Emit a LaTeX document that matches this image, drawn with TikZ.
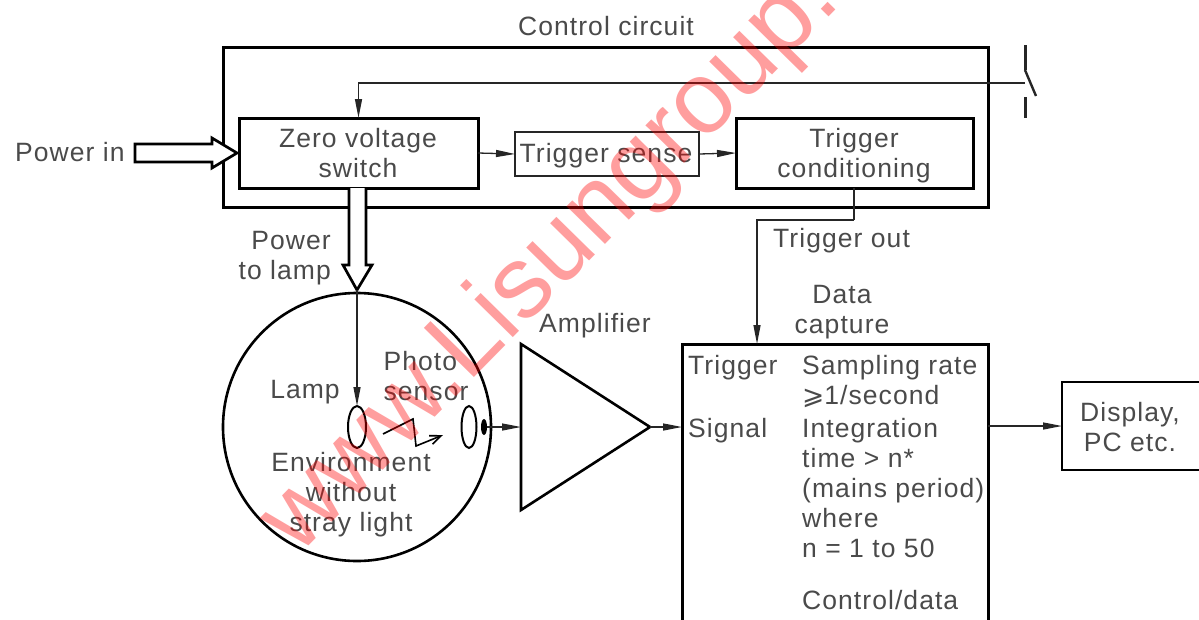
\documentclass[tikz,border=0pt]{standalone}
\usepackage{fontspec}
\setmainfont[LetterSpace=4]{Liberation Sans}
\newfontfamily\symfont{DejaVu Sans}
\newfontfamily\wmfont{Liberation Sans}
\usetikzlibrary{arrows.meta,shapes.geometric,calc}
\definecolor{txt}{HTML}{4A4A4A}
\tikzset{
 lbl/.style={text=txt,font=\fontsize{26.5}{30}\selectfont,align=center,inner sep=0pt},
 lbll/.style={lbl,align=left,anchor=base west},
 box/.style={draw=black,line width=3pt,inner sep=0pt,outer sep=0pt,anchor=north west},
 thinbox/.style={draw=black!85,line width=2pt,inner sep=0pt,outer sep=0pt,anchor=north west},
 wire/.style={draw=black!85,line width=1.3pt},
 arrowed/.style={wire,-{Triangle[length=19pt,width=7pt]}},
 fatarrow/.style={draw=black,line width=2.7pt,fill=white,line join=miter},
 lens/.style={draw=black,line width=2pt,ellipse,inner sep=0pt,outer sep=0pt},
}
\begin{document}
\begin{tikzpicture}[x=1pt,y=-1pt]
\useasboundingbox (0,0) rectangle (1199,619);
\clip (0,0) rectangle (1199,619);
\coordinate (swt) at (1025,45);
\coordinate (swm) at (1025,70);
\coordinate (swe) at (1036,96);
\coordinate (swc) at (1025,83);
\coordinate (swb) at (1025,97);
\coordinate (swl) at (1025,118);
\node[box,minimum width=765pt,minimum height=160pt] (ctrl) at (223,47) {};
\node[box,minimum width=239pt,minimum height=70pt] (zvs) at (239,118) {};
\node[thinbox,minimum width=184pt,minimum height=44pt] (ts) at (515,132) {};
\node[box,minimum width=237pt,minimum height=70pt] (tc) at (736,118) {};
\node[draw=black,line width=2.6pt,circle,inner sep=0pt,outer sep=0pt,minimum size=268pt] (env) at (357,427) {};
\node[box,minimum width=306pt,minimum height=400pt] (dc) at (682,344) {};
\node[box,line width=2.6pt,minimum width=160pt,minimum height=88pt] (disp) at (1062,382) {};
\node[lens,minimum width=18pt,minimum height=42pt] (lamp) at (357,427) {};
\node[lens,minimum width=15pt,minimum height=42pt] (sens) at (469,427) {};
\node[ellipse,fill=black,minimum width=6pt,minimum height=16pt,inner sep=0pt,outer sep=0pt] (spot) at (484,427) {};
% amplifier
\coordinate (ampa) at (521,344);
\coordinate (ampb) at (521,510);
\coordinate (ampt) at (650,427);
\coordinate (ampi) at (521,427);
\draw[draw=black,line width=2.6pt,line join=miter] (ampa) -- (ampt) -- (ampb) -- cycle;
% connectors
\draw[arrowed] (swc) -| (zvs.north);
\draw[black!85,line width=3pt] (swt) -- (swm);
\draw[black!85,line width=2.4pt] (swm) -- (swe);
\draw[black!85,line width=3pt] (swb) -- (swl);
\draw[arrowed] (zvs.east) -- (ts.west);
\draw[arrowed] (ts.east) -- (tc.west);
\coordinate (tcd) at (854,220);
\coordinate (dcin) at (757,344);
\draw[wire] (tc.south -| tcd) -- (tcd);
\draw[arrowed] (tcd) -| (dcin);
\draw[arrowed] (spot.east) -- (ampi);
\draw[arrowed] (ampt) -- (ampt -| dc.west);
\draw[arrowed] (dc.east |- disp.west) -- (disp.west);
% fat arrows
\coordinate (fa) at (357,290);
\draw[fatarrow] (135,144) -- (212,144) -- (212,138) -- (237,153) -- (212,168) -- (212,162) -- (135,162) -- cycle;
\draw[fatarrow] (349,188) -- (349,265) -- (343,265) -- (fa) -- (372,265) -- (366,265) -- (366,188);
\draw[arrowed] (fa) -- (lamp.north);
% light path
\coordinate (lz1) at (383,434);
\coordinate (lz2) at (413,419);
\coordinate (lz3) at (416,446);
\coordinate (lz4) at (443,435);
\draw[black,line width=1.6pt,-{Straight Barb[length=11pt,width=9pt]}] (lz1) -- (lz2) -- (lz3) -- (lz4);
% labels
\node[lbl] (l1) at (606,26) {Control circuit};
\node[lbl,anchor=west] (l2) at (15,152) {Power in};
\node[lbl] (l3) at (358,153) {Zero voltage\\switch};
\node[lbl] (l4) at (606,156) {Trigger sense};
\node[lbl] (l5) at (854,156) {Trigger\\conditioning};
\node[lbl,align=right,anchor=east] (l6) at (331,258) {Power\\to lamp};
\node[lbl,anchor=west] (l7) at (773,241) {Trigger out};
\node[lbl] (l8) at (842,312) {Data\\capture};
\node[lbl] (l9) at (595,326) {Amplifier};
\node[lbl] (l10) at (305,392) {Lamp};
\node[lbl,align=left] (l11) at (426,376) {Photo\\sensor};
\node[lbl] (l12) at (351,495) {Environment\\without\\stray light};
\node[lbll] (d1) at (688,374) {Trigger};
\node[lbll] (d2) at (688,437) {Signal};
\node[lbll] (d3) at (802,374) {Sampling rate};
\node[lbll] (d4) at (802,404) {{\symfont ⩾}1/second};
\node[lbll] (d5) at (802,437) {Integration};
\node[lbll] (d6) at (802,467) {time > n*};
\node[lbll] (d7) at (802,497) {(mains period)};
\node[lbll] (d8) at (802,527) {where};
\node[lbll] (d9) at (802,557) {n = 1 to 50};
\node[lbll] (d10) at (802,609) {Control/data};
\node[lbl] (d11) at (1130,427) {Display,\\PC etc.};
% watermark
\node[anchor=base west,rotate=45.5,inner sep=0pt,text=red,text opacity=.38,font=\wmfont\fontsize{102}{102}\selectfont] (wm) at (298,557) {www.Lisungroup.com};
\end{tikzpicture}
\end{document}
